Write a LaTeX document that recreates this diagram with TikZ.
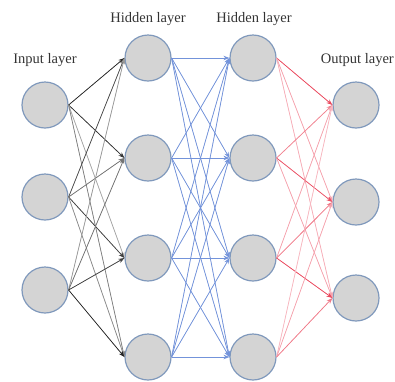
\documentclass[tikz,border=0pt]{standalone}
\usepackage{fontspec}
\setmainfont{Liberation Serif}
\usetikzlibrary{arrows.meta}
\definecolor{nodefill}{HTML}{D4D4D4}
\definecolor{nodeline}{HTML}{8099BC}
\definecolor{blueedge}{HTML}{5A80D4}
\definecolor{rededge}{HTML}{E8324A}
\tikzset{
  neuron/.style={circle, draw=nodeline, fill=nodefill, line width=1.2pt, minimum size=46pt, inner sep=0pt},
  lbl/.style={font=\fontsize{14.5}{16}\selectfont, text=black!80, inner sep=0pt},
  edge/.style={line width=0.75pt, -{Stealth[length=6pt,width=4.5pt]}},
}
\begin{document}
\begin{tikzpicture}[x=1pt,y=-1pt]
\useasboundingbox (0,0) rectangle (395,381);
% labels
\node[lbl] (tin) at (45,60) {Input layer};
\node[lbl] (th1) at (148,19) {Hidden layer};
\node[lbl] (th2) at (254,19) {Hidden layer};
\node[lbl, anchor=east] (tout) at (394,60) {Output layer};
% positions
\foreach \n/\y in {1/105,2/197,3/290} \coordinate (ci\n) at (45,\y);
\foreach \n/\y in {1/58,2/158,3/258,4/357} {\coordinate (ch\n) at (148,\y); \coordinate (cg\n) at (253,\y);}
\foreach \n/\y in {1/105,2/202,3/298} \coordinate (co\n) at (356,\y);
% nodes
\foreach \n in {1,2,3} \node[neuron] (i\n) at (ci\n) {};
\foreach \n in {1,2,3,4} \node[neuron] (h\n) at (ch\n) {};
\foreach \n in {1,2,3,4} \node[neuron] (g\n) at (cg\n) {};
\foreach \n in {1,2,3} \node[neuron] (o\n) at (co\n) {};
% input -> hidden 1 (grays)
\foreach \a/\b/\s in {1/1/85,1/2/80,1/3/35,1/4/50,
                      2/1/70,2/2/55,2/3/75,2/4/45,
                      3/1/40,3/2/55,3/3/75,3/4/85}
  \draw[edge, draw=black!\s, fill=black!\s] (i\a.east) -- (h\b.west);
% hidden 1 -> hidden 2 (blue)
\foreach \a in {1,2,3,4}
  \foreach \b in {1,2,3,4}
    \draw[edge, draw=blueedge!85, fill=blueedge] (h\a.east) -- (g\b.west);
% hidden 2 -> output (red)
\foreach \a/\b/\s in {1/1/90,1/2/45,1/3/40,
                      2/1/60,2/2/85,2/3/45,
                      3/1/45,3/2/65,3/3/90,
                      4/1/35,4/2/45,4/3/65}
  \draw[edge, draw=rededge!\s, fill=rededge!\s] (g\a.east) -- (o\b.west);
\end{tikzpicture}
\end{document}
